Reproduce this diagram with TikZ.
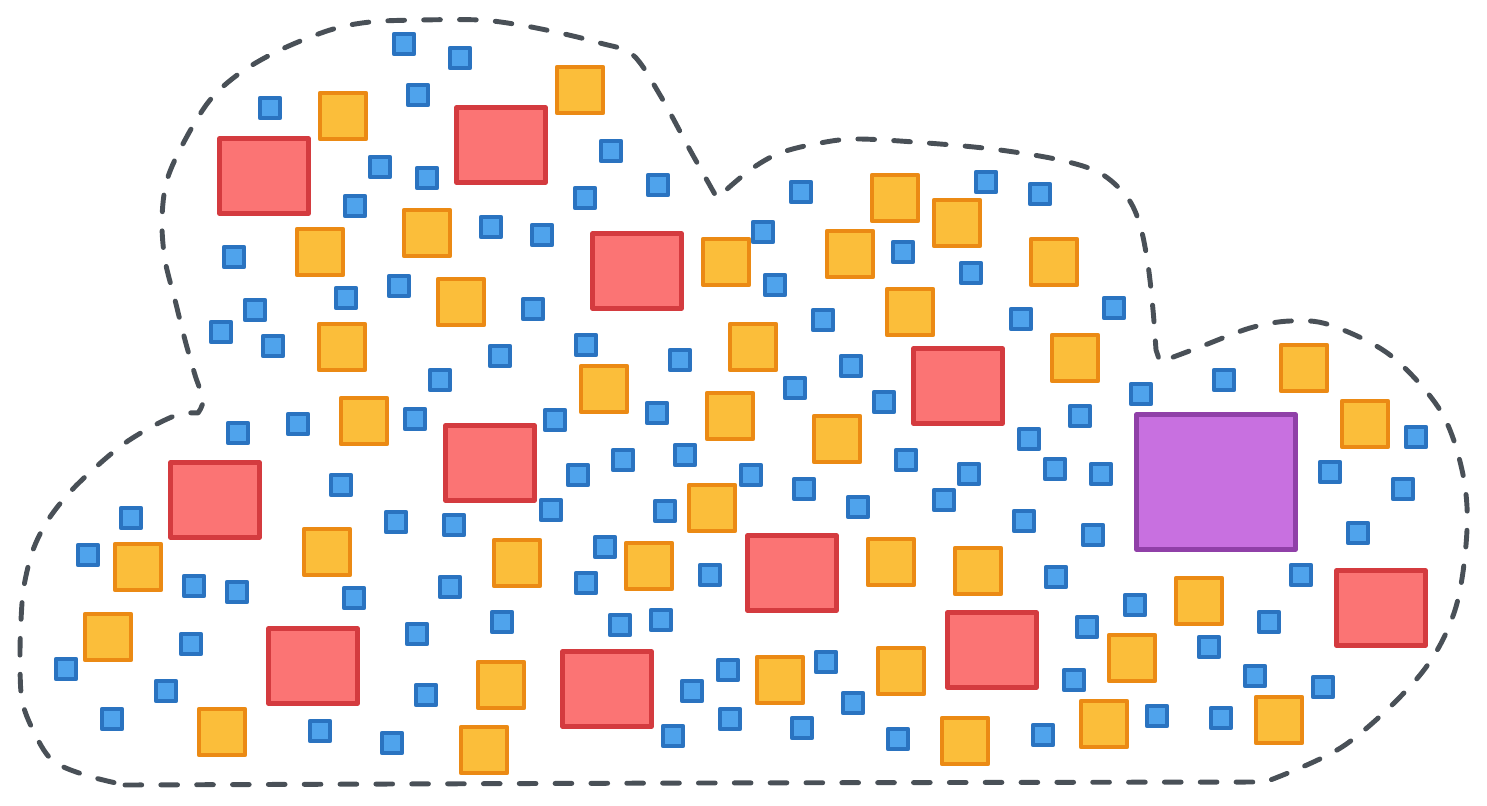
\documentclass[tikz,border=0pt]{standalone}
\usepackage{tikz}
\usetikzlibrary{positioning}

\definecolor{cloudgray}{HTML}{495057}
\definecolor{bluefill}{HTML}{4FA3EC}
\definecolor{bluedraw}{HTML}{2A73C0}
\definecolor{orangefill}{HTML}{FBBE3A}
\definecolor{orangedraw}{HTML}{EB8A14}
\definecolor{redfill}{HTML}{FB7474}
\definecolor{reddraw}{HTML}{D43B3F}
\definecolor{purplefill}{HTML}{C870E0}
\definecolor{purpledraw}{HTML}{9040A8}

\begin{document}
\begin{tikzpicture}[
			x=0.02cm, y=-0.02cm,
			cloud/.style = {draw=cloudgray, line width=2.8pt, line cap=round, line join=round, dash pattern=on 9.5pt off 10.9pt},
			sq/.style = {draw, line width=2.5pt, inner sep=0pt, line join=round},
			bluesq/.style = {sq, fill=bluefill, draw=bluedraw, minimum size=0.4cm},
			orangesq/.style = {sq, fill=orangefill, draw=orangedraw, minimum size=0.92cm},
			redsq/.style = {sq, fill=redfill, draw=reddraw, minimum width=1.78cm, minimum height=1.5cm},
			purplesq/.style = {sq, fill=purplefill, draw=purpledraw, minimum width=3.18cm, minimum height=2.7cm}
			]
			\useasboundingbox (0,0) rectangle (1487,805);
			
			% cloud outline
			\draw[cloud] plot[smooth, tension=0.55] coordinates {(125,785) (700,783) (1265,782)}
				-- plot[smooth, tension=0.55] coordinates {(1265,782) (1345,745) (1420,675) (1455,610) (1467,530) (1462,470) (1440,410) (1390,355) (1330,325) (1290,321) (1250,328) (1200,347) (1160,362)}
				-- plot[smooth, tension=0.55] coordinates {(1156,350) (1153,310) (1148,265) (1140,225) (1127,197) (1100,173) (1060,160) (1000,150) (940,144) (860,139) (820,143) (780,153) (750,170) (717,198)}
				-- plot[smooth, tension=0.55] coordinates {(717,198) (690,150) (660,95) (633,55) (600,43) (560,33) (520,25) (480,20) (420,20) (370,22) (330,30) (280,50) (240,73) (210,100) (185,140) (167,180) (162,220) (165,260) (175,300) (185,340) (195,375) (203,400) (198,413)}
				-- plot[smooth, tension=0.55] coordinates {(198,413) (180,414) (155,425) (125,443) (97,466) (70,492) (48,520) (33,550) (24,586) (21,620) (20,660) (22,700) (33,730) (52,760) (85,775) (125,785)};
			
			% small blue boxes
			\foreach \x/\y [count=\i] in {404/44, 460/58, 270/108, 418/95, 380/167, 427/178, 355/206, 234/257, 491/227, 399/286,
				346/298, 255/310, 221/332, 273/346, 500/356, 440/380, 611/151, 585/198, 658/185, 542/235,
				763/232, 801/192, 775/285, 903/252, 986/182, 971/273, 533/309, 823/320, 586/345, 680/360,
				795/388, 851/366, 884/402, 657/413, 1040/194, 1021/319, 1114/308, 1141/394, 1224/380, 1080/416,
				238/433, 298/424, 415/419, 341/485, 131/518, 88/555, 396/522, 454/525, 194/586, 237/592,
				354/598, 450/587, 191/644, 417/634, 502/622, 66/669, 166/691, 112/719, 320/731, 426/695,
				392/743, 555/420, 578/475, 623/460, 685/455, 751/475, 804/489, 906/460, 858/507, 944/500,
				969/474, 551/510, 665/511, 605/547, 586/583, 710/575, 620/625, 661/620, 692/691, 728/670,
				730/719, 826/662, 853/703, 802/728, 673/736, 898/739, 1029/439, 1055/469, 1101/474, 1024/521,
				1093/535, 1056/577, 1416/437, 1330/472, 1403/489, 1358/533, 1301/575, 1135/605, 1087/627, 1269/622,
				1209/647, 1074/680, 1255/676, 1323/687, 1043/735, 1157/716, 1221/718}
				\node[bluesq] (blue\i) at (\x,\y) {};
			
			% orange boxes
			\foreach \x/\y [count=\i] in {343/116, 320/252, 427/233, 461/302, 342/347, 580/90, 726/262, 753/347, 850/254, 895/198,
				957/223, 910/312, 604/389, 730/416, 1054/262, 1075/358, 1304/368, 1365/424, 364/421, 138/567,
				327/552, 108/637, 222/732, 484/750, 501/685, 517/563, 837/439, 712/508, 649/566, 891/562,
				978/571, 780/680, 901/671, 965/741, 1199/601, 1132/658, 1104/724, 1279/720}
				\node[orangesq] (orange\i) at (\x,\y) {};
			
			% red boxes
			\foreach \x/\y [count=\i] in {264/176, 501/145, 637/271, 958/386, 490/463, 215/500, 792/573, 313/666, 607/689, 992/650, 1381/608}
				\node[redsq] (red\i) at (\x,\y) {};
			
			\node[purplesq] (big) at (1216,482) {};
		\end{tikzpicture}
\end{document}
